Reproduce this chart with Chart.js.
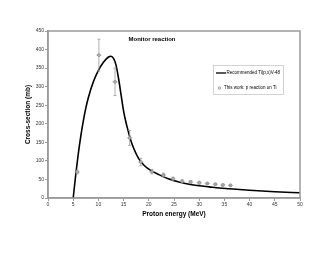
<!DOCTYPE html>
<html>
<head>
<meta charset="utf-8">
<script src="https://cdn.jsdelivr.net/npm/chart.js@4"></script>
<style>
  html, body { margin: 0; padding: 0; background: #fff; }
  #wrap { width: 330px; height: 255px; }
</style>
</head>
<body>
<div id="wrap"><canvas id="monitorChart" width="330" height="255"></canvas></div>
<script>
// recommended curve Ti(p,x)V-48
const curveEnergy = [5.0, 5.5, 6.0, 6.5, 7.0, 7.5, 8.0, 9.0, 10.0, 11.0, 12.0, 12.5, 13.0, 13.5, 14.0, 14.5, 15.0, 15.5, 16.0, 16.5, 17.0, 18.0, 19.0, 20.0, 22.0, 24.0, 26.0, 28.0, 30.0, 32.0, 34.0, 36.0, 38.0, 40.0, 45.0, 50.0];
const curveXs = [0, 62, 118, 166, 207, 242, 270, 313, 344, 366, 380, 382, 376, 358, 322, 278, 234, 202, 176, 152, 134, 106, 89, 78, 63, 51, 43, 37, 33, 30, 27, 25, 23, 21, 17, 14];

// this work: measured points
const expEnergy = [5.8, 10.1, 13.3, 16.2, 18.4, 20.6, 22.9, 24.8, 26.6, 28.3, 30.0, 31.6, 33.2, 34.7, 36.2];
const expXs = [70, 385, 313, 162, 97, 71, 62, 52, 45, 43, 41, 39, 37, 35, 34];
const expErr = [5, 43, 37, 20, 10, 6, 5, 4, 4, 4, 4, 3, 3, 3, 3];
const energyErr = 0.5;

const xTicks = [0, 5, 10, 15, 20, 25, 30, 35, 40, 45, 50];
const yTicks = [0, 50, 100, 150, 200, 250, 300, 350, 400, 450];

const FONT = "'Liberation Sans', Arial, sans-serif";
const AXIS_GREY = '#9a9a9a';

// error bars drawn through the scales
const errorBars = {
    id: 'errorBars',
    afterDatasetsDraw(chart) {
        const { ctx, scales: { x, y } } = chart;
        ctx.save();
        ctx.strokeStyle = '#999';
        ctx.lineWidth = 0.8;
        expEnergy.forEach((e, i) => {
            const px = x.getPixelForValue(e);
            const top = y.getPixelForValue(expXs[i] + expErr[i]);
            const bot = y.getPixelForValue(expXs[i] - expErr[i]);
            const py = y.getPixelForValue(expXs[i]);
            const l = x.getPixelForValue(e - energyErr);
            const r = x.getPixelForValue(e + energyErr);
            ctx.beginPath();
            ctx.moveTo(px, top); ctx.lineTo(px, bot);
            ctx.moveTo(px - 1.5, top); ctx.lineTo(px + 1.5, top);
            ctx.moveTo(px - 1.5, bot); ctx.lineTo(px + 1.5, bot);
            ctx.moveTo(l, py); ctx.lineTo(r, py);
            ctx.stroke();
        });
        ctx.restore();
    }
};

// frame, inner title and legend box
const decorations = {
    id: 'decorations',
    afterDraw(chart) {
        const { ctx, chartArea: a } = chart;
        ctx.save();
        ctx.strokeStyle = AXIS_GREY;
        ctx.lineWidth = 1.5;
        ctx.strokeRect(a.left, a.top, a.right - a.left, a.bottom - a.top);

        ctx.fillStyle = '#000';
        ctx.font = `bold 6px ${FONT}`;
        ctx.textAlign = 'center';
        ctx.textBaseline = 'middle';
        ctx.fillText('Monitor reaction', 152, 39);

        // legend
        ctx.lineWidth = 0.8;
        ctx.strokeStyle = '#c8c8c8';
        ctx.strokeRect(213.5, 65.5, 70, 29);
        ctx.textAlign = 'left';
        ctx.font = `4.5px ${FONT}`;
        const ds = chart.data.datasets;
        ctx.strokeStyle = '#000';
        ctx.lineWidth = 1.3;
        ctx.beginPath(); ctx.moveTo(216, 73); ctx.lineTo(226, 73); ctx.stroke();
        ctx.fillText(ds[0].label, 226.5, 73);
        ctx.strokeStyle = '#777';
        ctx.lineWidth = 0.7;
        ctx.beginPath(); ctx.arc(219.5, 88, 1.3, 0, Math.PI * 2); ctx.stroke();
        ctx.fillText(ds[1].label, 224, 88);
        ctx.restore();
    }
};

const ctx = document.getElementById('monitorChart').getContext('2d');
const chart = new Chart(ctx, {
    type: 'scatter',
    data: {
        datasets: [{
            label: 'Recommended Ti(p,x)V-48',
            data: curveEnergy.map((e, i) => ({ x: e, y: curveXs[i] })),
            showLine: true,
            borderColor: '#000',
            borderWidth: 1.6,
            pointRadius: 0,
            cubicInterpolationMode: 'monotone',
            order: 2
        }, {
            label: 'This work: p reaction on Ti',
            data: expEnergy.map((e, i) => ({ x: e, y: expXs[i] })),
            showLine: false,
            pointRadius: 1.4,
            pointBorderWidth: 0.7,
            pointBorderColor: '#666',
            pointBackgroundColor: '#fff',
            order: 1
        }]
    },
    options: {
        responsive: false,
        animation: false,
        layout: { padding: { left: 0, top: 31, right: 30, bottom: 0 } },
        plugins: {
            legend: { display: false },
            tooltip: { enabled: false }
        },
        scales: {
            x: {
                type: 'linear',
                min: 0, max: 50,
                afterFit(scale) { scale.height = 57; },
                afterBuildTicks(scale) { scale.ticks = xTicks.map(v => ({ value: v })); },
                grid: { display: true, drawOnChartArea: false, color: AXIS_GREY, tickLength: 3 },
                border: { color: AXIS_GREY, width: 1.5 },
                ticks: { font: { size: 5, family: FONT }, color: '#333', padding: 1, maxRotation: 0 },
                title: {
                    display: true,
                    text: 'Proton energy (MeV)',
                    font: { size: 6.5, weight: 'bold', family: FONT },
                    color: '#000',
                    padding: { top: 0, bottom: 37 }
                }
            },
            y: {
                type: 'linear',
                min: 0, max: 450,
                afterFit(scale) { scale.width = 48; },
                afterBuildTicks(scale) { scale.ticks = yTicks.map(v => ({ value: v })); },
                grid: { display: true, drawOnChartArea: false, color: AXIS_GREY, tickLength: 3 },
                border: { color: AXIS_GREY, width: 1.5 },
                ticks: { font: { size: 5, family: FONT }, color: '#333', padding: 1 },
                title: {
                    display: true,
                    text: 'Cross-section (mb)',
                    font: { size: 6.5, weight: 'bold', family: FONT },
                    color: '#000',
                    padding: { top: 24, bottom: 0 }
                }
            }
        }
    },
    plugins: [errorBars, decorations]
});
</script>
</body>
</html>
